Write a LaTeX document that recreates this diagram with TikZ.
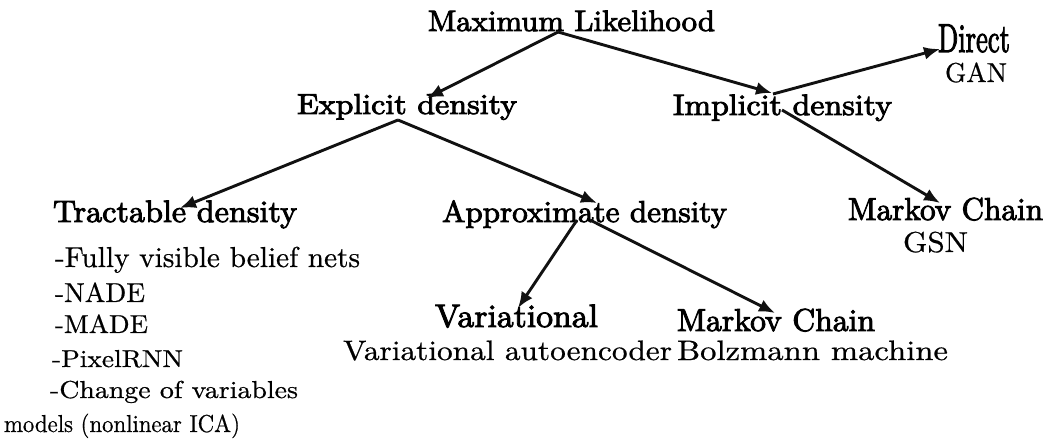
\documentclass[tikz,border=0pt]{standalone}
\usepackage{fontspec}
\setmainfont{Latin Modern Roman}[FakeBold=0.6]
\newfontfamily\hdfont{Latin Modern Roman}[FakeBold=2.8]
\usetikzlibrary{arrows.meta,calc}
\newcommand\fb[3]{\resizebox{#1pt}{#2pt}{\smash{#3}\vphantom{l}}}
\newcommand\hb[3]{\resizebox{#1pt}{#2pt}{\smash{\hdfont #3}\vphantom{l}}}
\tikzset{
  lbl/.style={inner sep=0pt, outer sep=0pt, anchor=base west, text=black},
  conn/.style={line width=2.9pt, draw={rgb,255:red,17;green,17;blue,17}, -{Latex[length=16pt,width=13pt]}}
}
\begin{document}
\begin{tikzpicture}[x=1pt,y=-1pt]
\useasboundingbox (0,0) rectangle (1047,446);
% nodes
\node[lbl] (ml)   at (428,31)  {\hb{287}{20.5}{Maximum Likelihood}};
\node[lbl] (expl) at (297,114) {\hb{220}{20}{Explicit density}};
\node[lbl] (impl) at (673,115) {\hb{219}{20.5}{Implicit density}};
\node[lbl] (dir)  at (938,52)  {\hb{72}{28}{Direct}};
\node[lbl] (gan)  at (945,82)  {\fb{62}{19}{GAN}};
\node[lbl] (trac) at (53,222)  {\hb{244}{21.5}{Tractable density}};
\node[lbl] (appr) at (442,222) {\hb{285}{21}{Approximate density}};
\node[lbl] (mcr)  at (848,220) {\hb{195}{22}{Markov Chain}};
\node[lbl] (gsn)  at (903,252) {\fb{65}{20}{GSN}};
\node[lbl] (var)  at (435,327) {\hb{163}{22.5}{Variational}};
\node[lbl] (mcm)  at (677,331) {\hb{198}{22}{Markov Chain}};
\node[lbl] (vae)  at (343,360) {\fb{329}{19.5}{Variational autoencoder}};
\node[lbl] (bolz) at (677,360) {\fb{271}{19.5}{Bolzmann machine}};
\node[lbl] (l1)   at (55,267)  {\fb{305}{20}{-Fully visible belief nets}};
\node[lbl] (l2)   at (55,302)  {\fb{90}{19}{-NADE}};
\node[lbl] (l3)   at (55,333)  {\fb{93}{18}{-MADE}};
\node[lbl] (l4)   at (52,367)  {\fb{131}{17}{-PixelRNN}};
\node[lbl] (l5)   at (50,398)  {\fb{248}{17}{-Change of variables}};
\node[lbl] (l6)   at (4,432)   {\fb{236}{17}{models (nonlinear ICA)}};
% connectors
\draw[conn] ($(ml.base)+(-13.5,1)$) -- ($(expl.base)+(20,-16)$);
\draw[conn] ($(ml.base)+(-13.5,1)$) -- ($(impl.base)+(-10.5,-22)$);
\draw[conn] ($(impl.base)+(-9.5,-21)$) -- ($(dir.base)+(-34,-3)$);
\draw[conn] ($(impl.base)+(-0.5,-5)$) -- ($(mcr.base)+(-5.5,-17)$);
\draw[conn] ($(expl.base)+(-9,6)$) -- ($(trac.base)+(5,-14)$);
\draw[conn] ($(expl.base)+(-9,6)$) -- ($(appr.base)+(12.5,-19)$);
\draw[conn] ($(appr.base)+(-7.5,-2)$) -- ($(var.base)+(1.5,-19)$);
\draw[conn] ($(appr.base)+(5.5,-2)$) -- ($(mcm.base)+(-1,-18)$);
\end{tikzpicture}
\end{document}
